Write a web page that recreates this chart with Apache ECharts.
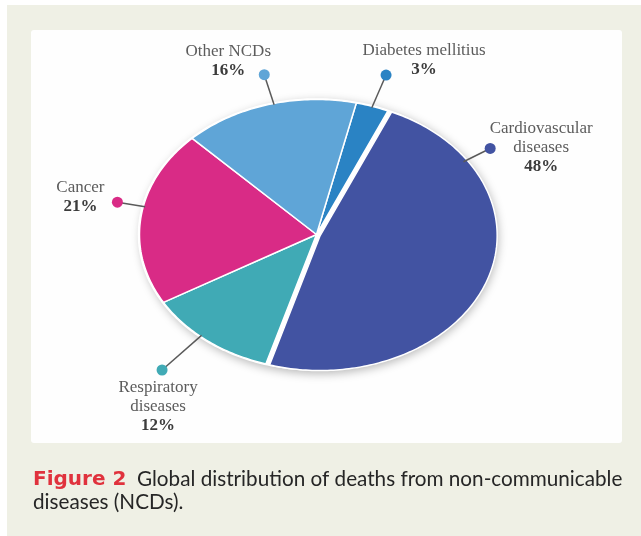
<!DOCTYPE html>
<html><head><meta charset="utf-8">
<script src="https://cdn.jsdelivr.net/npm/echarts@6/dist/echarts.min.js"></script>
<style>html,body{margin:0;padding:0;background:#fff}#c{width:641px;height:536px}</style>
</head><body><div id="c"></div>
<script>
// ---- data ----
const categories = ['Diabetes mellitius', 'Cardiovascular diseases', 'Respiratory diseases', 'Cancer', 'Other NCDs'];
const labelNames = [['Diabetes mellitius'], ['Cardiovascular', 'diseases'], ['Respiratory', 'diseases'], ['Cancer'], ['Other NCDs']];
const values = [3, 48, 12, 21, 16];
const captionLabel = 'Figure 2';
const captionLines = ['Global distribution of deaths from non-communicable', 'diseases (NCDs).'];

// ---- style / layout ----
const sliceColors = ['#2a83c4', '#4253a2', '#40aab5', '#d92b86', '#5fa5d7'];
const START_DEG = 13;      // clockwise from 12 o'clock
const EXPLODE = [0, 0.022, 0, 0, 0];
const labelLayout = [
  { angle: null, r: 1.245, dx: 38, dy: -15 },
  { angle: 57, r: 1.17, dx: 51, dy: -1 },
  { angle: 221, r: 1.33, dx: -4, dy: 37 },
  { angle: 282, r: 1.15, dx: -37, dy: -5 },
  { angle: 346, r: 1.22, dx: -36, dy: -14 }
];
const SERIF = '"Liberation Serif", "DejaVu Serif", serif';

const total = values.reduce((a, b) => a + b, 0);
let acc = 0;
const sliceData = values.map((v, i) => { const s = acc; acc += v; return [s / total, acc / total, i]; });

function rad(d) { return d * Math.PI / 180; }

function renderSlice(params, api) {
  const s = api.value(0), e = api.value(1), i = api.value(2);
  const a0 = rad(START_DEG + s * 360), a1 = rad(START_DEG + e * 360);
  const am = (a0 + a1) / 2;
  const ex = EXPLODE[i] || 0;
  const ox = Math.sin(am) * ex, oy = Math.cos(am) * ex;
  const pts = [api.coord([ox, oy])];
  const n = Math.max(8, Math.ceil((a1 - a0) * 180 / Math.PI));
  for (let k = 0; k <= n; k++) {
    const a = a0 + (a1 - a0) * k / n;
    pts.push(api.coord([ox + Math.sin(a), oy + Math.cos(a)]));
  }
  return {
    type: 'polygon', shape: { points: pts },
    style: { fill: sliceColors[i], stroke: '#fff', lineWidth: 1.5, lineJoin: 'round' }
  };
}

function renderShadow(params, api) {
  const pts = [];
  for (let k = 0; k < 360; k++) {
    const a = rad(k);
    pts.push(api.coord([Math.sin(a) * 1.01, Math.cos(a) * 1.01]));
  }
  return {
    type: 'polygon', shape: { points: pts },
    style: { fill: '#ffffff', shadowBlur: 10, shadowColor: 'rgba(0,0,0,0.28)', shadowOffsetX: 3, shadowOffsetY: 3 }
  };
}

function renderLabel(params, api) {
  const s = api.value(0), e = api.value(1), i = api.value(2);
  const L = labelLayout[i];
  const deg = L.angle != null ? L.angle : START_DEG + (s + e) / 2 * 360;
  const a = rad(deg);
  const p0 = api.coord([Math.sin(a) * 0.99, Math.cos(a) * 0.99]);
  const p1 = api.coord([Math.sin(a) * L.r, Math.cos(a) * L.r]);
  const pct = Math.round(values[i] / total * 100) + '%';
  const txt = labelNames[i].map(t => '{n|' + t + '}').join('\n') + '\n{p|' + pct + '}';
  return {
    type: 'group', children: [
      { type: 'line', shape: { x1: p0[0], y1: p0[1], x2: p1[0], y2: p1[1] }, style: { stroke: '#5a5a5a', lineWidth: 1.5 } },
      { type: 'circle', shape: { cx: p1[0], cy: p1[1], r: 5.5 }, style: { fill: sliceColors[i] } },
      {
        type: 'text', x: p1[0] + L.dx, y: p1[1] + L.dy,
        style: {
          text: txt, align: 'center', verticalAlign: 'middle',
          rich: {
            n: { fontFamily: SERIF, fontSize: 17, lineHeight: 19, fill: '#5c5c5c', align: 'center' },
            p: { fontFamily: SERIF, fontSize: 17, lineHeight: 19, fill: '#3c3c3c', fontWeight: 'bold', align: 'center' }
          }
        }
      }
    ]
  };
}

const chart = echarts.init(document.getElementById('c'), null, { renderer: 'canvas' });
chart.setOption({
  backgroundColor: '#ffffff',
  animation: false,
  graphic: [
    { type: 'rect', z: -10, shape: { x: 7, y: 5, width: 641, height: 536 }, style: { fill: '#eff0e5' } },
    { type: 'rect', z: -9, shape: { x: 31, y: 30, width: 591, height: 413, r: 3 }, style: { fill: '#fefefe' } },
    {
      type: 'text', left: 33, top: 469, z: 10,
      style: {
        text: '{f|' + captionLabel + '}{t|  ' + captionLines[0] + '}\n{t|' + captionLines[1] + '}',
        rich: {
          f: { fontFamily: '"DejaVu Sans", sans-serif', fontWeight: 'bold', fontSize: 20, lineHeight: 23, fill: '#e0323d' },
          t: { fontFamily: 'Lato, sans-serif', fontSize: 20.7, lineHeight: 23, fill: '#262626' }
        }
      }
    }
  ],
  grid: { left: 139.5, top: 99.5, width: 354, height: 270 },
  xAxis: { type: 'value', min: -1, max: 1, show: false },
  yAxis: { type: 'value', min: -1, max: 1, show: false },
  series: [
    { type: 'custom', name: 'shadow', coordinateSystem: 'cartesian2d', renderItem: renderShadow, data: [[0, 1, -1]], clip: false, z: 1, silent: true },
    { type: 'custom', name: 'slices', coordinateSystem: 'cartesian2d', renderItem: renderSlice, data: sliceData, clip: false, z: 2 },
    { type: 'custom', name: 'labels', coordinateSystem: 'cartesian2d', renderItem: renderLabel, data: sliceData, clip: false, z: 3, silent: true }
  ]
});
</script></body></html>
